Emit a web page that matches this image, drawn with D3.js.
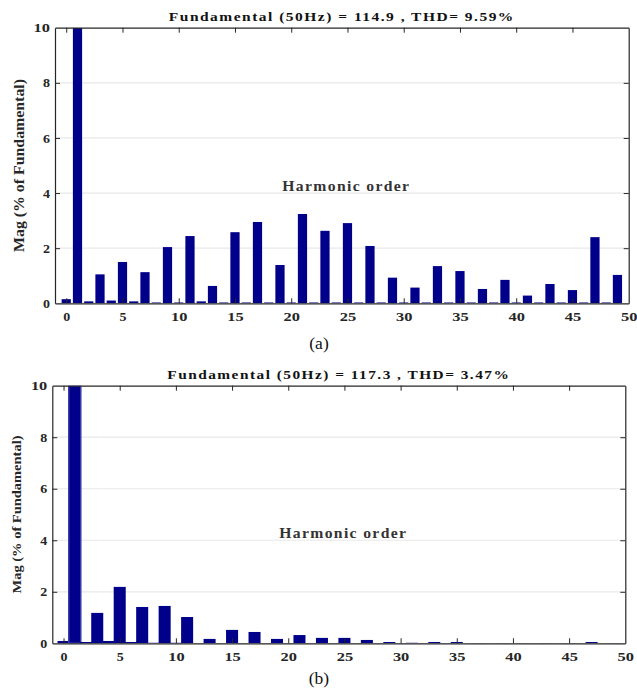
<!DOCTYPE html>
<html>
<head>
<meta charset="UTF-8">
<title>Harmonic spectrum (a) and (b)</title>
<style>
  body { margin: 0; background: #fff; }
  svg { display: block; }
  text { font-family: "Liberation Serif", "DejaVu Serif", serif; }
</style>
</head>
<body>
<svg></svg>
<script src="https://d3js.org/d3.v7.min.js"></script>
<script>

/* DATA */

// harmonic orders shown on the x axis
var orders = d3.range(0, 50);

// magnitude (% of fundamental), case (a) - fundamental is 100, clipped at 10
var magA = [0.15, 100, 0.07, 1.05, 0.10, 1.50, 0.07, 1.13, 0.03, 2.04,
            0.03, 2.44, 0.07, 0.63, 0.03, 2.58, 0.03, 2.95, 0.03, 1.39,
            0.03, 3.24, 0.03, 2.63, 0.03, 2.91, 0.03, 2.08, 0.03, 0.93,
            0.03, 0.57, 0.03, 1.35, 0.03, 1.17, 0.03, 0.52, 0.03, 0.85,
            0.03, 0.28, 0.03, 0.70, 0.03, 0.48, 0.03, 2.40, 0.03, 1.03];

// magnitude (% of fundamental), case (b)
var magB = [0.09, 100, 0.05, 1.18, 0.09, 2.19, 0.05, 1.41, 0.02, 1.45,
            0.02, 1.02, 0.01, 0.17, 0.01, 0.52, 0.01, 0.44, 0.01, 0.17,
            0.01, 0.32, 0.01, 0.21, 0.01, 0.21, 0.01, 0.13, 0.01, 0.05,
            0.01, 0.02, 0.01, 0.05, 0.01, 0.05, 0.00, 0.01, 0.00, 0.01,
            0.00, 0.01, 0.00, 0.01, 0.00, 0.01, 0.00, 0.05, 0.00, 0.01];

var titles = ["Fundamental (50Hz) = 114.9 , THD= 9.59%",
              "Fundamental (50Hz) = 117.3 , THD= 3.47%"];
var captions = ["(a)", "(b)"];
var xTicks = [0, 5, 10, 15, 20, 25, 30, 35, 40, 45, 50];
var yTicks = [0, 2, 4, 6, 8, 10];
var yLabel = "Mag (% of Fundamental)";
var xLabel = "Harmonic order";

/* CONFIG */
var config = {
  width: 637,
  height: 696,
  barColor: "#00008b",
  axisColor: "#262626",
  gridColor: "#e8e8e8",
  tickLen: 5,
  panels: [
    {left: 55, right: 628.7, top: 27.7, bottom: 303.3, barWidth: 0.82,
     titleLen: 346, yLabX: 19.5, yLabSize: 14, yLabLen: 173, xLabLen: 128, capY: 349},
    {left: 52.3, right: 625.3, top: 385.7, bottom: 643.3, barWidth: 1.07,
     titleLen: 343, yLabX: 16.5, yLabSize: 13, yLabLen: 158, xLabLen: 128, capY: 684}
  ]
};

var series = [magA, magB];

var svg = d3.select("svg")
  .attr("width", config.width)
  .attr("height", config.height);

function styleTickText(sel) {
  sel.attr("font-family", "Liberation Serif")
    .attr("font-size", 13)
    .attr("font-weight", "bold")
    .attr("fill", config.axisColor)
    .each(function(d) {
      var n = String(d).length;
      d3.select(this).attr("textLength", n * 7 + (n - 1) * 2.4).attr("lengthAdjust", "spacingAndGlyphs");
    });
}

config.panels.forEach(function(p, k) {
  var data = orders.map(function(o, i) { return {order: o, mag: series[k][i]}; });

  var x = d3.scaleLinear().domain([-1, 50]).range([p.left, p.right]);
  var y = d3.scaleLinear().domain([0, 10]).range([p.bottom, p.top]).clamp(true);

  var g = svg.append("g");

  // clip so the fundamental bar stops at the frame
  g.append("clipPath").attr("id", "clip" + k)
    .append("rect")
      .attr("x", p.left).attr("y", p.top)
      .attr("width", p.right - p.left).attr("height", p.bottom - p.top);

  // horizontal grid
  g.append("g")
    .selectAll("line")
    .data(yTicks.filter(function(t) { return t > 0 && t < 10; }))
    .enter().append("line")
      .attr("x1", p.left).attr("x2", p.right)
      .attr("y1", function(d) { return y(d); })
      .attr("y2", function(d) { return y(d); })
      .attr("stroke", config.gridColor)
      .attr("stroke-width", 1.2);

  // bars
  g.append("g")
    .attr("clip-path", "url(#clip" + k + ")")
    .selectAll("rect")
    .data(data)
    .enter().append("rect")
      .attr("x", function(d) { return x(d.order - p.barWidth / 2); })
      .attr("width", function(d) { return x(p.barWidth) - x(0); })
      .attr("y", function(d) { return y(d.mag); })
      .attr("height", function(d) { return y(0) - y(d.mag); })
      .attr("fill", config.barColor)
      .attr("stroke", function(d) { return (k == 1 && d.order == 1) ? "#3b3bb0" : "none"; })
      .attr("stroke-width", 1.5);

  // axes: ticks all point inward
  var axB = g.append("g").attr("transform", "translate(0," + p.bottom + ")")
    .call(d3.axisBottom(x).tickValues(xTicks).tickSize(-config.tickLen).tickPadding(8.5).tickSizeOuter(0));
  var axT = g.append("g").attr("transform", "translate(0," + p.top + ")")
    .call(d3.axisTop(x).tickValues(xTicks).tickSize(-config.tickLen).tickFormat("").tickSizeOuter(0));
  var axL = g.append("g").attr("transform", "translate(" + p.left + ",0)")
    .call(d3.axisLeft(y).tickValues(yTicks).tickSize(-config.tickLen).tickPadding(5).tickSizeOuter(0));
  var axR = g.append("g").attr("transform", "translate(" + p.right + ",0)")
    .call(d3.axisRight(y).tickValues(yTicks).tickSize(-config.tickLen).tickFormat("").tickSizeOuter(0));

  [axB, axT, axL, axR].forEach(function(a) {
    a.select(".domain").attr("stroke", config.axisColor).attr("stroke-width", 1.2);
    a.selectAll(".tick line").attr("stroke", config.axisColor);
  });
  // no tick marks on the frame corners
  axB.selectAll(".tick line").filter(function(d) { return d == 50; }).remove();
  axT.selectAll(".tick line").filter(function(d) { return d == 50; }).remove();
  axL.selectAll(".tick line").filter(function(d) { return d == 0 || d == 10; }).remove();
  axR.selectAll(".tick line").filter(function(d) { return d == 0 || d == 10; }).remove();

  styleTickText(axB.selectAll(".tick text"));
  styleTickText(axL.selectAll(".tick text"));

  // title
  var cx = (p.left + p.right) / 2;
  g.append("text")
    .attr("x", cx).attr("y", p.top - 7)
    .attr("text-anchor", "middle")
    .attr("font-size", 12.5)
    .attr("font-weight", "bold")
    .attr("letter-spacing", 1.2)
    .attr("fill", "#111")
    .attr("textLength", p.titleLen)
    .attr("lengthAdjust", "spacingAndGlyphs")
    .text(titles[k]);

  // x label sits inside the plot, just above the 4 gridline
  g.append("text")
    .attr("x", cx + 4.5).attr("y", y(4) - 2)
    .attr("text-anchor", "middle")
    .attr("font-size", 14)
    .attr("font-weight", "bold")
    .attr("letter-spacing", 1.2)
    .attr("fill", "#333")
    .attr("textLength", p.xLabLen)
    .attr("lengthAdjust", "spacingAndGlyphs")
    .text(xLabel);

  // y label
  g.append("text")
    .attr("transform", "translate(" + p.yLabX + "," + ((p.top + p.bottom) / 2) + ") rotate(-90)")
    .attr("text-anchor", "middle")
    .attr("dy", "0.35em")
    .attr("font-size", p.yLabSize)
    .attr("font-weight", "bold")
    .attr("fill", "#262626")
    .attr("textLength", p.yLabLen)
    .attr("lengthAdjust", "spacingAndGlyphs")
    .text(yLabel);

  // caption
  g.append("text")
    .attr("x", 319).attr("y", p.capY)
    .attr("text-anchor", "middle")
    .attr("font-size", 17.5)
    .attr("fill", "#111")
    .text(captions[k]);
});

</script>
</body>
</html>
